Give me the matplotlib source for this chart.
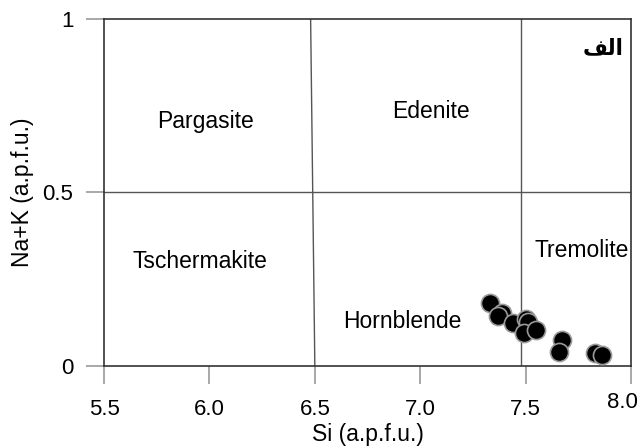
import matplotlib.pyplot as plt
from matplotlib.transforms import ScaledTranslation

plt.rcParams['font.family'] = ['Liberation Sans', 'DejaVu Sans']

# amphibole analyses (Si vs Na+K, a.p.f.u.)
si = [7.33, 7.39, 7.37, 7.44, 7.50, 7.51, 7.49, 7.55, 7.67, 7.66, 7.83, 7.86]
nak = [0.182, 0.153, 0.143, 0.124, 0.135, 0.128, 0.095, 0.104, 0.075, 0.041, 0.037, 0.031]

x_ticks = [5.5, 6.0, 6.5, 7.0, 7.5, 8.0]
x_labels = ['5.5', '6.0', '6.5', '7.0', '7.5', '8.0']
y_ticks = [0, 0.5, 1]
y_labels = ['0', '0.5', '1']

fields = ['Pargasite', 'Edenite', 'Tschermakite', 'Hornblende', 'Tremolite']
field_x = [5.98, 7.05, 5.955, 6.915, 7.765]
field_y = [0.705, 0.732, 0.30, 0.127, 0.334]

fig = plt.figure(figsize=(6.42, 4.46), dpi=100)
ax = fig.add_axes([0.162, 0.1794, 0.821, 0.778])

# field boundaries
ax.plot([5.5, 8.0], [0.5, 0.5], color='#555555', lw=1)
ax.plot([6.48, 6.5], [1.0, 0.0], color='#555555', lw=1)
ax.plot([7.48, 7.48], [1.0, 0.0], color='#555555', lw=1)

ax.scatter(si, nak, s=170, c='black', edgecolors='#999999', linewidths=1.2, zorder=3)

for name, fx, fy in zip(fields, field_x, field_y):
    ax.text(fx, fy, name, fontsize=16.5, ha='center', va='center')

ax.text(7.867, 0.916, '\uFED2\uFEDF\uFE8D', fontsize=15.5, fontweight='bold',
        ha='center', va='center', family=['DejaVu Sans'])

ax.set_xlim(5.5, 8.0)
ax.set_ylim(0, 1)
ax.set_xticks(x_ticks)
ax.set_xticklabels(x_labels)
ax.set_yticks(y_ticks)
ax.set_yticklabels(y_labels)
ax.tick_params(direction='out', length=13, color='#999999', width=1.2, labelsize=16)
ax.tick_params(axis='x', pad=11)
ax.tick_params(axis='y', pad=9)
for s in ax.spines.values():
    s.set_color('#333333')
    s.set_linewidth(1.2)

# last x label sits a bit left and higher in the original
lab = ax.get_xticklabels()[-1]
lab.set_transform(lab.get_transform() + ScaledTranslation(-6 / 72, 5 / 72, fig.dpi_scale_trans))

ax.set_xlabel('Si (a.p.f.u.)', fontsize=16.5, labelpad=2)
ax.set_ylabel('Na+K (a.p.f.u.)', fontsize=16.5, labelpad=6)

fig.savefig('out.png', dpi=100)
